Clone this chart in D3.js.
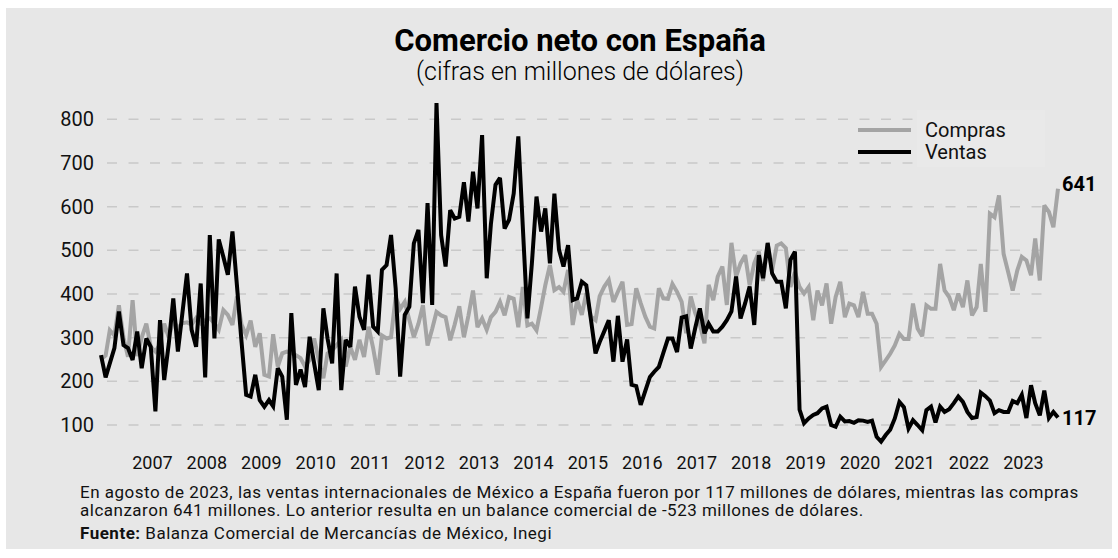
<!DOCTYPE html>
<html>
<head>
<meta charset="utf-8">
<script src="https://cdn.jsdelivr.net/npm/d3@7"></script>
<style>
  body { margin: 0; background: #fff; }
  svg { display: block; }
</style>
</head>
<body>
<svg id="chart" width="1118" height="558"></svg>
<script>

// monthly values, Jan 2006 - Aug 2023 (millones de dólares)
var compras = [
  250, 259, 317, 305, 374, 300, 256, 386, 258, 300, 332, 279,
  268, 285, 332, 300, 340, 322, 333, 335, 330, 345, 333, 340,
  344, 333, 318, 363, 352, 329, 394, 330, 306, 339, 279, 310,
  215, 211, 308, 234, 264, 268, 265, 260, 253, 234, 249, 298,
  249, 207, 264, 271, 283, 295, 234, 279, 249, 295, 256, 325,
  276, 215, 305, 298, 301, 393, 366, 382, 340, 301, 332, 374,
  282, 320, 359, 351, 347, 294, 330, 372, 301, 350, 408, 324,
  344, 318, 347, 359, 382, 351, 393, 389, 324, 416, 328, 332,
  317, 370, 420, 466, 409, 416, 405, 455, 329, 386, 352, 402,
  348, 340, 395, 417, 432, 382, 405, 428, 329, 331, 413, 379,
  348, 325, 321, 413, 390, 389, 423, 405, 382, 310, 394, 356,
  330, 287, 421, 386, 440, 463, 375, 517, 440, 470, 489, 420,
  470, 497, 430, 515, 454, 511, 516, 505, 416, 450, 416, 401,
  416, 340, 408, 374, 424, 332, 393, 428, 347, 378, 374, 347,
  405, 355, 355, 332, 233, 248, 263, 282, 309, 297, 297, 378,
  321, 303, 374, 366, 366, 469, 408, 393, 363, 401, 370, 431,
  351, 370, 469, 359, 584, 576, 626, 492, 450, 408, 454, 485,
  477, 443, 527, 431, 603, 588, 553, 641
];

var ventas = [
  260, 209, 241, 276, 360, 283, 276, 249, 314, 230, 298, 279,
  131, 340, 203, 287, 390, 268, 356, 447, 318, 279, 424, 209,
  535, 298, 525, 485, 444, 543, 420, 290, 169, 165, 215, 157,
  142, 157, 143, 230, 211, 112, 356, 192, 227, 187, 302, 241,
  180, 367, 298, 241, 447, 180, 295, 279, 417, 348, 318, 444,
  325, 314, 455, 466, 535, 413, 211, 352, 371, 516, 547, 379,
  608, 375, 837, 535, 463, 592, 573, 577, 656, 566, 680, 596,
  764, 436, 560, 650, 666, 550, 570, 630, 761, 555, 344, 470,
  623, 543, 596, 470, 630, 501, 463, 512, 386, 390, 428, 420,
  342, 264, 290, 315, 340, 245, 350, 245, 296, 192, 189, 146,
  178, 210, 222, 233, 265, 298, 298, 267, 346, 349, 275, 322,
  367, 310, 332, 314, 314, 325, 340, 360, 440, 344, 379, 417,
  329, 489, 436, 517, 447, 428, 428, 367, 478, 497, 135, 104,
  115, 123, 127, 138, 142, 100, 96, 119, 108, 109, 105, 111,
  110, 107, 110, 73, 62, 77, 89, 115, 153, 141, 92, 111,
  100, 88, 134, 142, 106, 142, 130, 136, 150, 165, 153, 130,
  116, 118, 174, 166, 156, 127, 134, 130, 130, 155, 150, 169,
  116, 191, 150, 122, 179, 116, 130, 117
];

var seriesNames = ["Compras", "Ventas"];
var seriesColors = ["#a4a4a4", "#000000"];
var yTicks = [100, 200, 300, 400, 500, 600, 700, 800];
var yearTicks = d3.range(2007, 2024);
var footnote = [
  "En agosto de 2023, las ventas internacionales de México a España fueron por 117 millones de dólares, mientras las compras",
  "alcanzaron 641 millones. Lo anterior resulta en un balance comercial de -523 millones de dólares."
];

var font = "Roboto, 'Noto Sans', sans-serif";
var svg = d3.select("#chart");

// background panel
svg.append("rect")
    .attr("x", 6).attr("y", 8)
    .attr("width", 1106).attr("height", 541)
    .attr("fill", "#e7e7e7");

var dates = compras.map(function(d, i) { return new Date(2006, i, 1); });

var x = d3.scaleTime()
    .domain([dates[0], dates[dates.length - 1]])
    .range([101, 1058]);

var y = d3.scaleLinear()
    .domain([100, 800])
    .range([425, 119.3]);

// dashed grid
svg.append("g")
    .selectAll("line")
    .data(yTicks)
    .enter()
    .append("line")
    .attr("x1", 107)
    .attr("x2", 1044)
    .attr("y1", function(d) { return y(d); })
    .attr("y2", function(d) { return y(d); })
    .attr("stroke", "#c9c9c9")
    .attr("stroke-width", 1.5)
    .attr("stroke-dasharray", "10,11.5");

// y labels
svg.append("g")
    .selectAll("text")
    .data(yTicks)
    .enter()
    .append("text")
    .attr("x", 94)
    .attr("y", function(d) { return y(d); })
    .attr("dy", "0.35em")
    .attr("text-anchor", "end")
    .style("font-family", font)
    .style("font-size", "20px")
    .attr("fill", "#111")
    .text(function(d) { return d; });

// x labels
svg.append("g")
    .selectAll("text")
    .data(yearTicks)
    .enter()
    .append("text")
    .attr("x", function(d) { return x(new Date(d, 0, 1)) - 3; })
    .attr("y", 469)
    .attr("text-anchor", "middle")
    .style("font-family", font)
    .style("font-size", "18px")
    .attr("fill", "#111")
    .text(function(d) { return d; });

var line = d3.line()
    .x(function(d, i) { return x(dates[i]); })
    .y(function(d) { return y(d); });

[compras, ventas].forEach(function(values, k) {
    svg.append("path")
        .datum(values)
        .attr("d", line)
        .attr("fill", "none")
        .attr("stroke", seriesColors[k])
        .attr("stroke-width", 4)
        .attr("stroke-linejoin", "miter")
        .attr("stroke-miterlimit", 3);
});

// end labels
[compras, ventas].forEach(function(values, k) {
    var last = values[values.length - 1];
    svg.append("text")
        .attr("x", x(dates[dates.length - 1]) + 4)
        .attr("y", y(last))
        .attr("dy", k == 0 ? "0.1em" : "0.35em")
        .style("font-family", font)
        .style("font-size", "20px")
        .style("font-weight", 700)
        .attr("fill", "#000")
        .text(last);
});

// legend
svg.append("rect")
    .attr("x", 917).attr("y", 110)
    .attr("width", 128).attr("height", 57)
    .attr("fill", "#e9e9e9");

var legend = svg.append("g")
    .selectAll("g")
    .data(seriesNames)
    .enter()
    .append("g")
    .attr("transform", function(d, i) { return "translate(858," + (130 + i * 22) + ")"; });

legend.append("line")
    .attr("x1", 0).attr("x2", 53)
    .attr("stroke", function(d, i) { return seriesColors[i]; })
    .attr("stroke-width", 4);

legend.append("text")
    .attr("x", 67)
    .attr("dy", "0.35em")
    .style("font-family", font)
    .style("font-size", "20px")
    .attr("fill", "#111")
    .text(function(d) { return d; });

// titles
svg.append("text")
    .attr("x", 580).attr("y", 51)
    .attr("text-anchor", "middle")
    .style("font-family", font)
    .style("font-size", "31px")
    .style("font-weight", 700)
    .text("Comercio neto con España");

svg.append("text")
    .attr("x", 580).attr("y", 80)
    .attr("text-anchor", "middle")
    .style("font-family", font)
    .style("font-size", "25px")
    .style("font-weight", 300)
    .text("(cifras en millones de dólares)");

// footnote
svg.append("g")
    .selectAll("text")
    .data(footnote)
    .enter()
    .append("text")
    .attr("x", 80)
    .attr("y", function(d, i) { return 498 + i * 18; })
    .style("font-family", font)
    .style("font-size", "17px")
    .style("letter-spacing", "0.5px")
    .attr("fill", "#111")
    .text(function(d) { return d; });

var src = svg.append("text")
    .attr("x", 80).attr("y", 539)
    .style("font-family", font)
    .style("font-size", "17px")
    .style("letter-spacing", "0.5px")
    .attr("fill", "#111");
src.append("tspan").style("font-weight", 700).text("Fuente:");
src.append("tspan").text(" Balanza Comercial de Mercancías de México, Inegi");

</script>
</body>
</html>
